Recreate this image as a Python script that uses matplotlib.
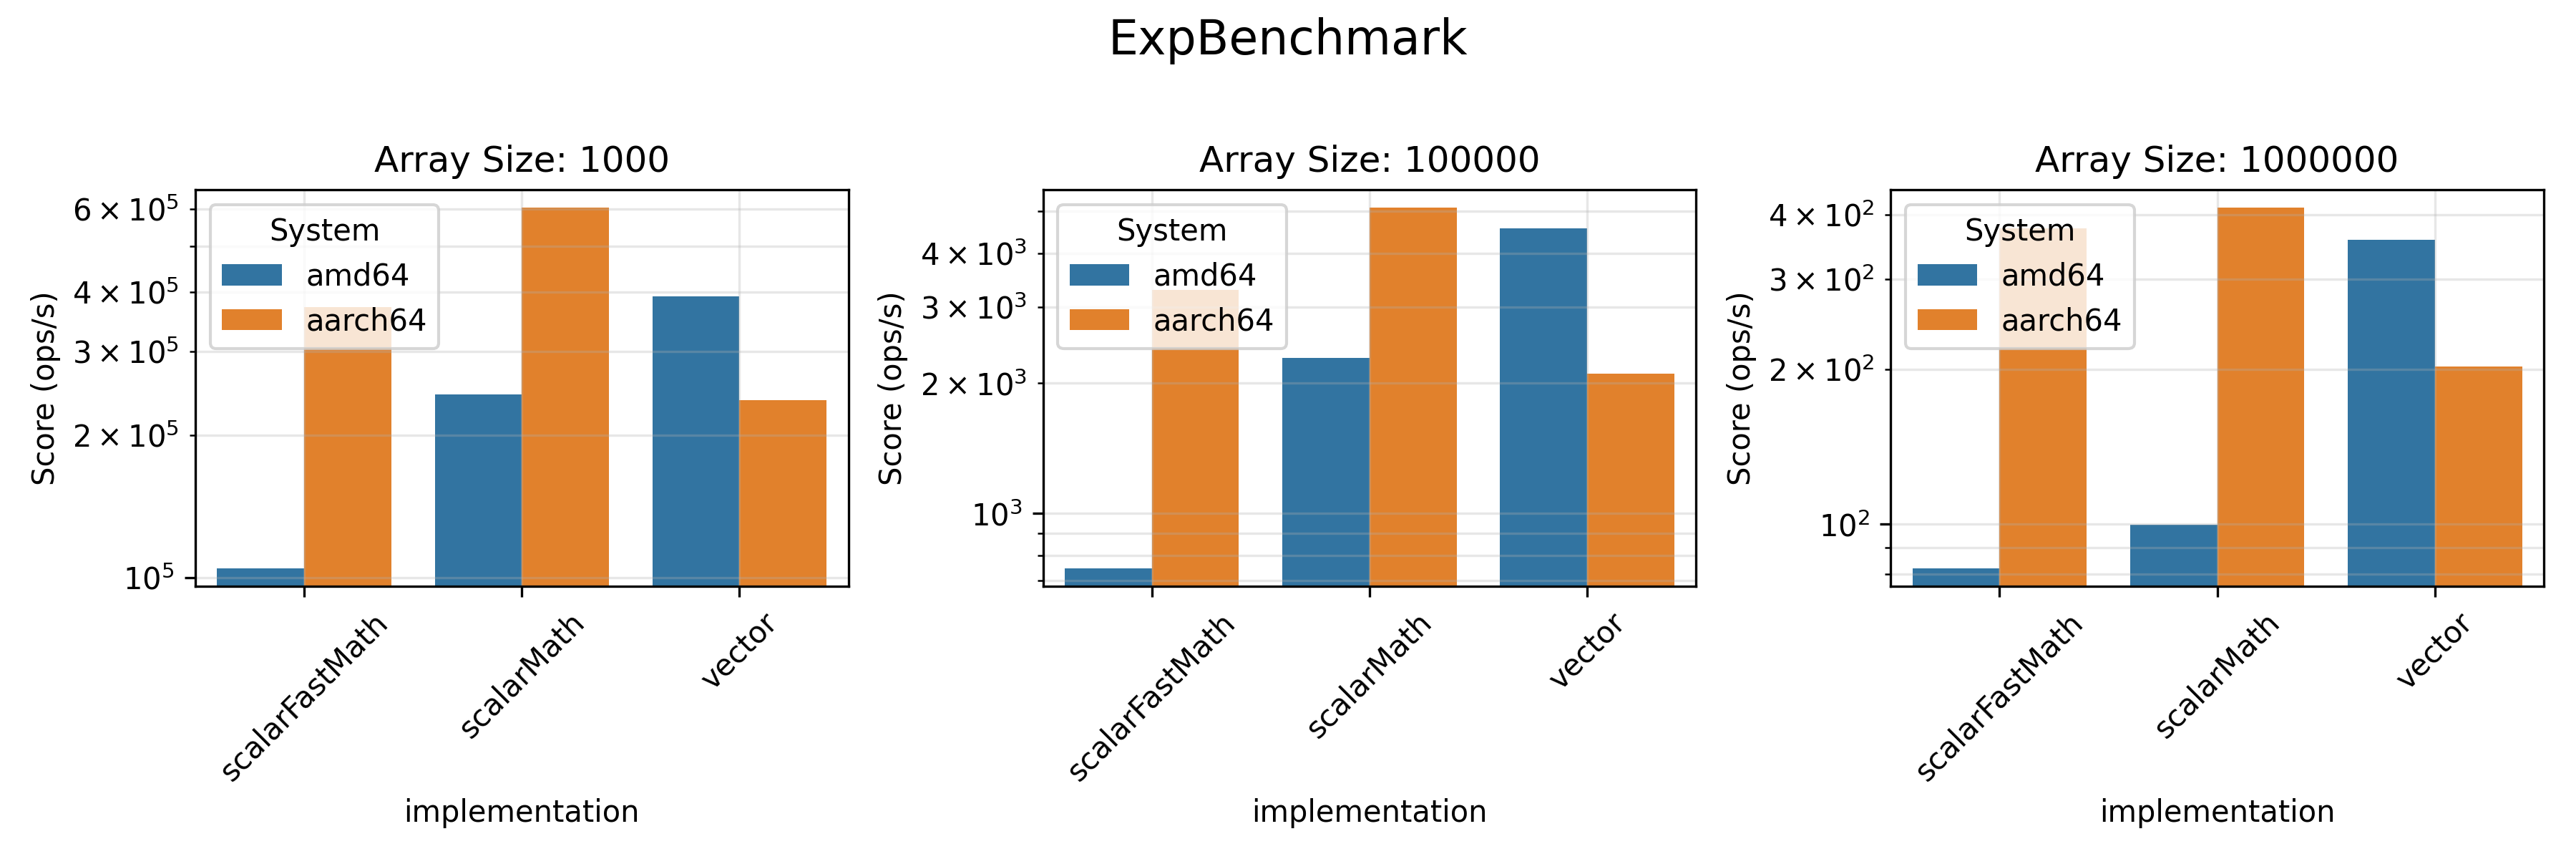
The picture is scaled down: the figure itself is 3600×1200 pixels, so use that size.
import matplotlib
matplotlib.use("Agg")
import matplotlib.pyplot as plt
import seaborn as sns
import pandas as pd

implementations = ["scalarFastMath", "scalarMath", "vector"]
systems = ["amd64", "aarch64"]
array_sizes = [1000, 100000, 1000000]

amd64_1000 = [1.047e5, 2.44e5, 3.92e5]
aarch64_1000 = [3.72e5, 6.03e5, 2.37e5]
amd64_100000 = [747, 2293, 4557]
aarch64_100000 = [3284, 5088, 2107]
amd64_1000000 = [82.1, 99.7, 357]
aarch64_1000000 = [376, 412.5, 202.7]

scores = {
    1000: (amd64_1000, aarch64_1000),
    100000: (amd64_100000, aarch64_100000),
    1000000: (amd64_1000000, aarch64_1000000),
}

rows = []
for size in array_sizes:
    for sysname, vals in zip(systems, scores[size]):
        for impl, v in zip(implementations, vals):
            rows.append({"size": size, "implementation": impl, "System": sysname, "score": v})
df = pd.DataFrame(rows)

fig, axes = plt.subplots(1, 3, figsize=(12, 4), dpi=300)
for ax, size in zip(axes, array_sizes):
    sub = df[df["size"] == size]
    sns.barplot(data=sub, x="implementation", y="score", hue="System",
                hue_order=systems, order=implementations, ax=ax)
    ax.set_yscale("log")
    ax.set_title(f"Array Size: {size}")
    ax.set_ylabel("Score (ops/s)")
    ax.set_xlabel("implementation")
    ax.tick_params(axis="x", rotation=45)
    ax.grid(True, which="both", alpha=0.3)
    ax.legend(title="System", loc="upper left")

fig.suptitle("ExpBenchmark", fontsize=16)
fig.subplots_adjust(left=0.0758, right=0.9875, top=0.779, bottom=0.3175, wspace=0.298)
fig.savefig("out.png", dpi=300)
